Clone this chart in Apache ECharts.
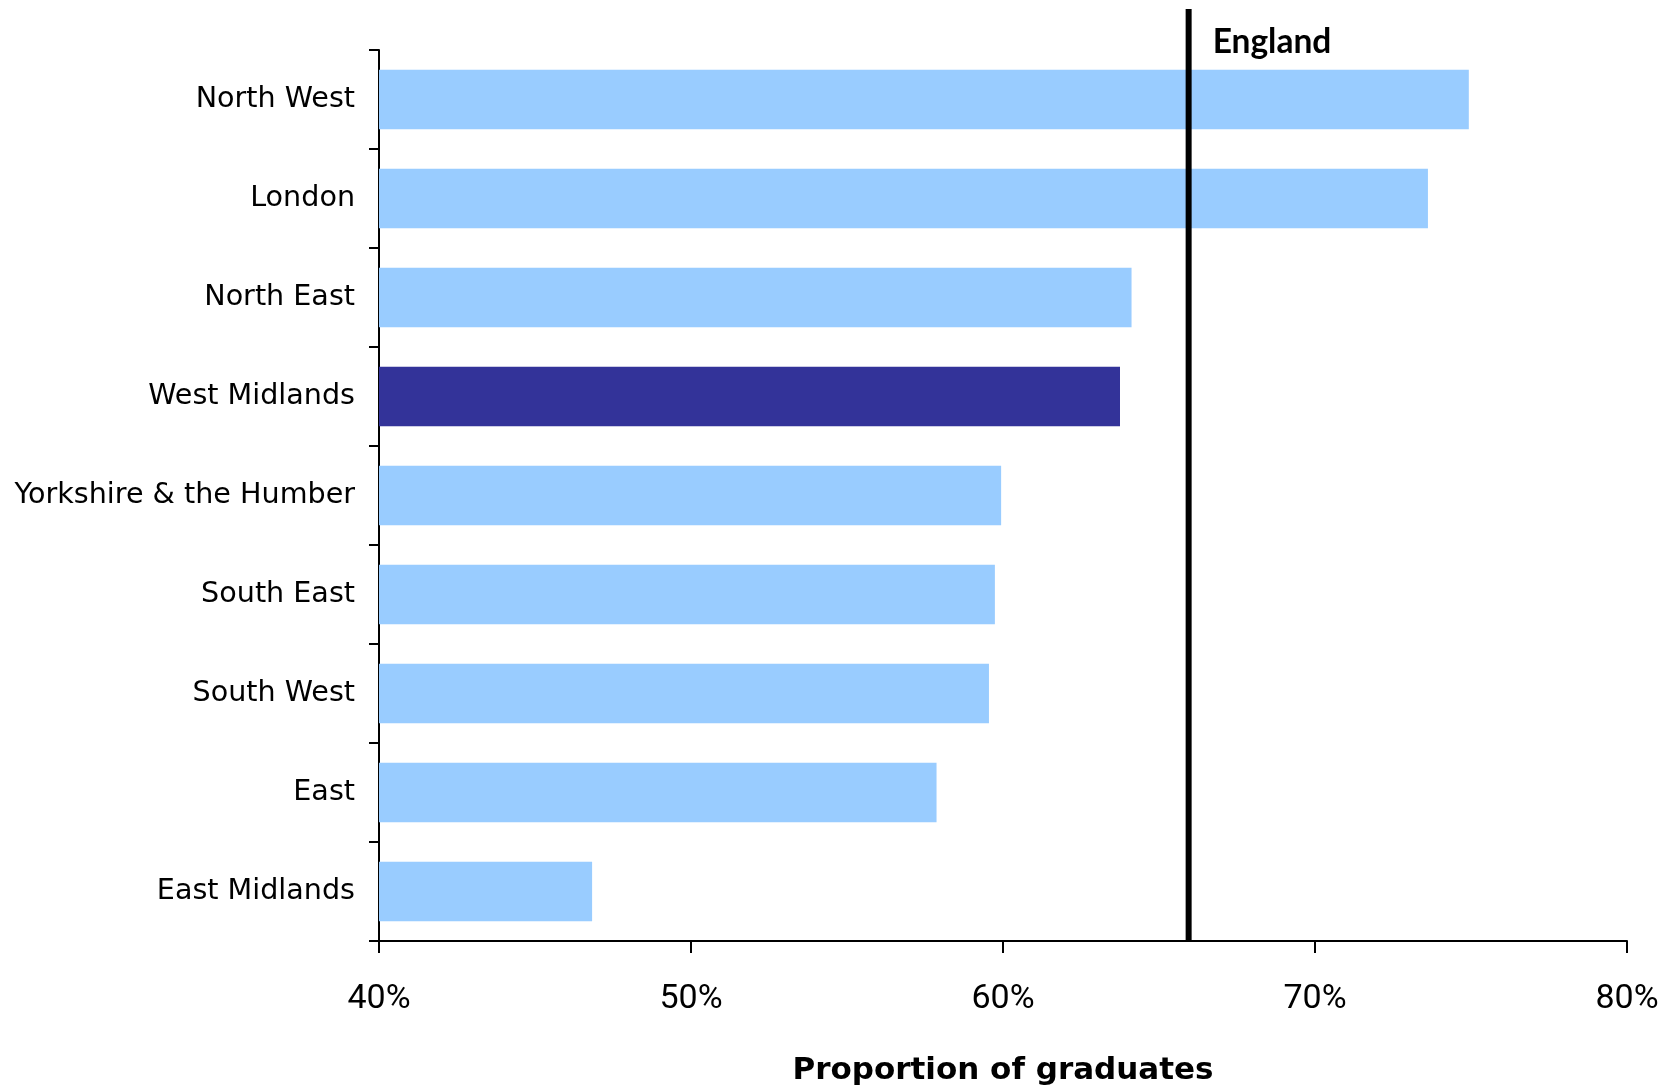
<!DOCTYPE html>
<html>
<head>
<meta charset="utf-8">
<script src="https://cdn.jsdelivr.net/npm/echarts@6/dist/echarts.min.js"></script>
<style>
html,body{margin:0;padding:0;background:#fff;}
#chart{width:1668px;height:1090px;}
</style>
</head>
<body>
<div id="chart"></div>
<script>
const categories = ["North West","London","North East","West Midlands","Yorkshire & the Humber","South East","South West","East","East Midlands"];
const values = [74.93, 73.62, 64.12, 63.75, 59.94, 59.74, 59.55, 57.87, 46.83];
const highlight = "West Midlands";
const englandValue = 65.95;
const englandLabel = "England";
const xTicks = [40, 50, 60, 70, 80];
const axisTitle = "Proportion of graduates";

const chart = echarts.init(document.getElementById('chart'), null, {renderer:'canvas'});
const gridL = 379, gridR = 41, gridB = 149;
const option = {
  animation: false,
  backgroundColor: '#ffffff',
  grid: [
    {left: gridL, right: gridR, top: 50, bottom: gridB, containLabel: false, outerBoundsMode: 'none'},
    {left: gridL, right: gridR, top: 9, bottom: gridB, containLabel: false, outerBoundsMode: 'none'}
  ],
  xAxis: [
    {
      type: 'value', gridIndex: 0,
      min: xTicks[0], max: xTicks[xTicks.length-1], interval: 10,
      axisLine: {show: true, lineStyle: {color: '#000', width: 2}},
      axisTick: {show: true, length: 12, lineStyle: {color: '#000', width: 2}},
      splitLine: {show: false},
      axisLabel: {
        formatter: '{value}%', margin: 41,
        fontFamily: 'Roboto, "Liberation Sans", sans-serif',
        fontSize: 34, color: '#000'
      },
      name: axisTitle, nameLocation: 'middle', nameGap: 114,
      nameTextStyle: {fontFamily: '"DejaVu Sans", sans-serif', fontWeight: 'bold', fontSize: 31, color: '#000'}
    },
    {
      type: 'value', gridIndex: 1,
      min: xTicks[0], max: xTicks[xTicks.length-1], interval: 10, show: false
    }
  ],
  yAxis: [
    {
      type: 'category', gridIndex: 0, data: categories, inverse: true,
      axisLine: {show: true, lineStyle: {color: '#000', width: 2}},
      axisTick: {show: true, length: 10, lineStyle: {color: '#000', width: 2}},
      axisLabel: {
        margin: 24, fontFamily: '"DejaVu Sans", sans-serif', fontSize: 28.6, color: '#000',
        padding: [0, 0, 10, 0]
      },
      splitLine: {show: false}
    },
    {
      type: 'value', gridIndex: 1, min: 0, max: 1, show: false
    }
  ],
  series: [
    {
      type: 'bar', xAxisIndex: 0, yAxisIndex: 0,
      barCategoryGap: '40%',
      data: values.map((v, i) => ({
        value: v,
        itemStyle: {color: categories[i] === highlight ? '#333399' : '#99CCFF'}
      })),
      z: 2
    },
    {
      type: 'line', xAxisIndex: 1, yAxisIndex: 1,
      symbol: 'circle', symbolSize: 0, showSymbol: true,
      lineStyle: {color: '#000', width: 6},
      label: {show: false},
      data: [
        [englandValue, 0],
        {
          value: [englandValue, 1],
          label: {
            show: true, position: 'right', distance: 5, offset: [19, 33],
            formatter: englandLabel,
            fontFamily: 'Lato, sans-serif', fontWeight: 'bold', fontSize: 33.5, color: '#000'
          }
        }
      ],
      z: 5
    }
  ]
};
chart.setOption(option);
</script>
</body>
</html>
